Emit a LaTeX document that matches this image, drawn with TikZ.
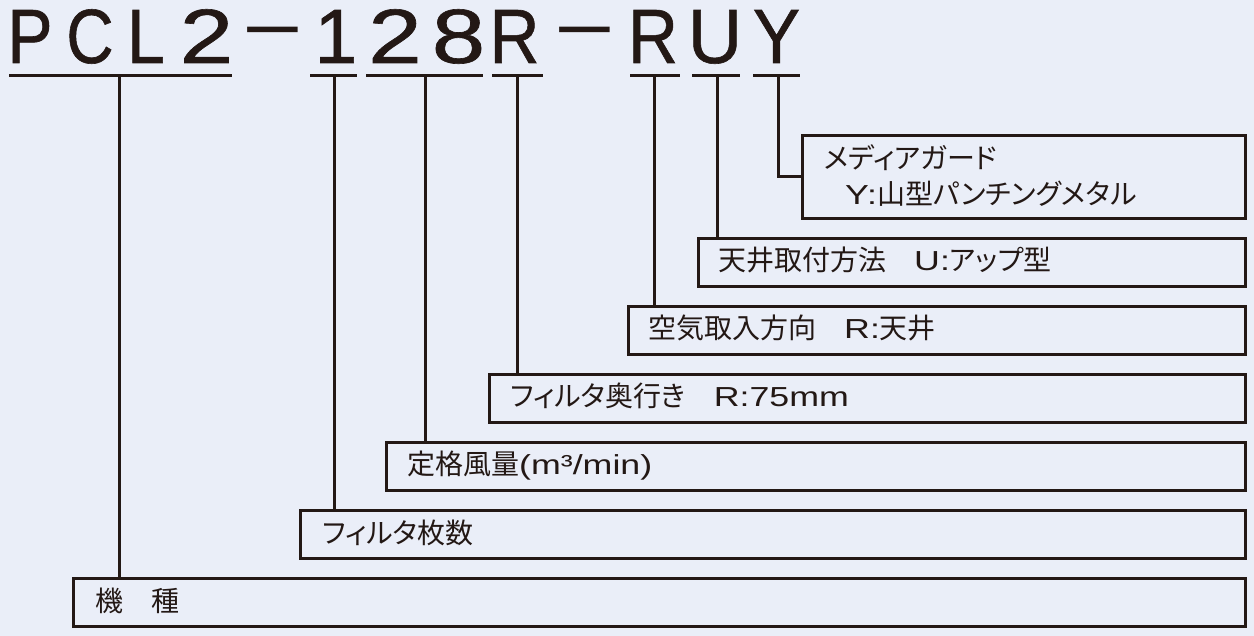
\documentclass[tikz,border=0pt]{standalone}
\usepackage{fontspec}
\usepackage{graphicx}
\newfontfamily\jpfont[RawFeature=+palt]{Noto Sans CJK JP}
\newfontfamily\latfont{Liberation Sans}
\newfontfamily\ttlfont[FakeBold=0.8]{Liberation Sans}
\definecolor{bg}{RGB}{234,238,248}
\definecolor{ink}{RGB}{35,24,21}
\newcommand\Lt[1]{\scalebox{1.3}[1]{\latfont\fontsize{27.5}{30}\selectfont #1}}
\newcommand\Tc[2]{\scalebox{#1}[1]{#2}}
\begin{document}
\begin{tikzpicture}[x=1pt,y=-1pt,
  box/.style={draw=ink, fill=bg, line width=3pt, inner sep=0pt, anchor=north west, rectangle},
  lbl/.style={inner sep=0pt, anchor=base west, font=\jpfont\fontsize{28}{30}\selectfont, text=ink},
  ttl/.style={inner sep=0pt, anchor=base, font=\ttlfont\fontsize{77}{80}\selectfont, text=ink},
  dsh/.style={inner sep=2pt, anchor=base, font=\latfont\fontsize{77}{80}\selectfont, text=ink},
  rule/.style={draw=ink, line width=3pt},
  ]
\fill[bg] (0,0) rectangle (1254,636);
\useasboundingbox (0,0) rectangle (1254,636);

% title characters
\node[ttl] (cP)  at (30,63)  {\Tc{0.88}{P}};
\node[ttl] (cC)  at (90,63)  {\Tc{0.85}{C}};
\node[ttl] (cL)  at (146,63) {\Tc{0.88}{L}};
\node[ttl] (c2a) at (206.5,63) {\Tc{1.25}{2}};
\node[dsh] (d1)  at (273,56) {\Tc{1.35}{−}};
\node[ttl] (c1)  at (336,63) {\Tc{1}{1}};
\node[ttl] (c2b) at (395,63) {\Tc{1.25}{2}};
\node[ttl] (c8)  at (458.5,63) {\Tc{1.25}{8}};
\node[ttl] (cR1) at (514.5,63) {\Tc{0.9}{R}};
\node[dsh] (d2)  at (585,56) {\Tc{1.35}{−}};
\node[ttl] (cR2) at (653,63) {\Tc{0.9}{R}};
\node[ttl] (cU)  at (715,63) {\Tc{0.98}{U}};
\node[ttl] (cY)  at (776.5,63) {\Tc{0.92}{Y}};

% underlines
\coordinate (u1l) at (9,76);   \coordinate (u1r) at (232,76);
\coordinate (u2l) at (310,76); \coordinate (u2r) at (357,76);
\coordinate (u3l) at (366,76); \coordinate (u3r) at (483,76);
\coordinate (u4l) at (492,76); \coordinate (u4r) at (543,76);
\coordinate (u5l) at (630,76); \coordinate (u5r) at (680,76);
\coordinate (u6l) at (692,76); \coordinate (u6r) at (740,76);
\coordinate (u7l) at (753,76); \coordinate (u7r) at (800,76);
\foreach \i in {1,...,7} {\draw[rule] (u\i l) -- (u\i r);}

% connector tops
\coordinate (k1) at (119,76);
\coordinate (k2) at (334,76);
\coordinate (k3) at (425,76);
\coordinate (k4) at (517,76);
\coordinate (k5) at (654,76);
\coordinate (k6) at (717,76);
\coordinate (k7) at (778,76);

% boxes
\node[box, minimum width=1172pt, minimum height=48pt] (b1) at (72,577) {};
\node[box, minimum width=945pt,  minimum height=48pt] (b2) at (299,509) {};
\node[box, minimum width=859pt,  minimum height=48pt] (b3) at (385,441) {};
\node[box, minimum width=756pt,  minimum height=48pt] (b4) at (488,373) {};
\node[box, minimum width=617pt,  minimum height=48pt] (b5) at (627,305) {};
\node[box, minimum width=547pt,  minimum height=48pt] (b6) at (697,237) {};
\node[box, minimum width=443pt,  minimum height=83pt] (b7) at (801,134) {};

% connectors
\draw[rule] (k1) -- (k1 |- b1.north);
\draw[rule] (k2) -- (k2 |- b2.north);
\draw[rule] (k3) -- (k3 |- b3.north);
\draw[rule] (k4) -- (k4 |- b4.north);
\draw[rule] (k5) -- (k5 |- b5.north);
\draw[rule] (k6) -- (k6 |- b6.north);
\draw[rule] (k7) |- (b7.west);

% labels
\node[lbl] (t1) at (95,611) {機　種};
\node[lbl] (t2) at (322,543) {フィルタ枚数};
\node[lbl] (t3) at (407,475) {定格風量\Lt{(m³/min)}};
\node[lbl] (t4) at (510,407) {フィルタ奥行き　\Lt{R:75mm}};
\node[lbl] (t5) at (648,339) {空気取入方向　\Lt{R:}天井};
\node[lbl] (t6) at (718,271) {天井取付方法　\Lt{U:}アップ型};
\node[lbl] (t7a) at (824,169) {メディアガード};
\node[lbl] (t7b) at (845,205) {\Lt{Y:}山型パンチングメタル};
\end{tikzpicture}
\end{document}
